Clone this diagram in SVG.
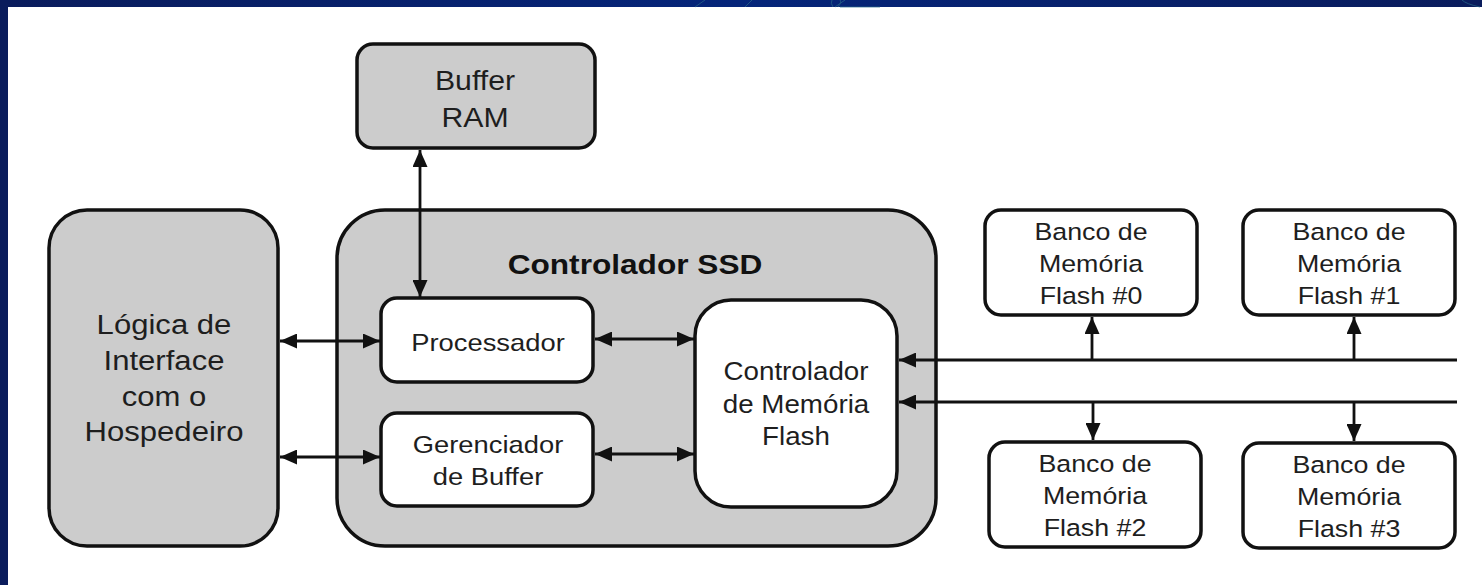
<svg xmlns="http://www.w3.org/2000/svg" width="1482" height="585" viewBox="0 0 1482 585">
  <defs>
    <linearGradient id="bar" x1="0" y1="0" x2="1" y2="0">
      <stop offset="0" stop-color="#0a1c5c"/>
      <stop offset="0.5" stop-color="#05257a"/>
      <stop offset="1" stop-color="#0a1c5c"/>
    </linearGradient>
    <marker id="head" viewBox="0 0 17 15" refX="17" refY="7.5" markerWidth="17" markerHeight="15" markerUnits="userSpaceOnUse" orient="auto-start-reverse">
      <path d="M0,0 L17,7.5 L0,15 z" fill="#111"/>
    </marker>
    <style>
      .box { stroke: #111; stroke-width: 3.5; }
      .gray { fill: #cccccc; }
      .white { fill: #ffffff; }
      .lbl { font-family: "Liberation Sans", Arial, sans-serif; fill: #1e1e1e; text-anchor: middle; }
      .bold { font-weight: bold; fill: #111; }
      .wire { stroke: #111; stroke-width: 2.8; fill: none; }
    </style>
  </defs>

  <!-- slide frame -->
  <rect x="0" y="0" width="1482" height="585" fill="#0a1c5c"/>
  <rect x="0" y="0" width="1482" height="7" fill="url(#bar)"/>
  <rect x="8" y="7" width="1474" height="578" fill="#ffffff"/>
  <g stroke="#2a6a8a" stroke-width="1" fill="none" opacity="0.7">
    <path d="M695,7 L705,0"/>
    <path d="M745,7 L752,0"/>
    <path d="M835,7 L845,0"/>
    <path d="M833,7 Q830,3 832,0"/>
    <path d="M840,7 L880,7"/>
    <path d="M838,7 Q842,2 840,0"/>
    <path d="M1480,7 Q1466,4 1462,0"/>
  </g>

  <!-- Buffer RAM -->
  <g id="buffer-ram">
    <rect class="box gray" x="357" y="44" width="238" height="104" rx="16"/>
    <text class="lbl" font-size="27" transform="translate(475,90) scale(1.12,1)"><tspan x="0" y="0">Buffer</tspan><tspan x="0" y="37">RAM</tspan></text>
  </g>

  <!-- Host interface logic -->
  <g id="host-interface">
    <rect class="box gray" x="49" y="210" width="229" height="336" rx="38"/>
    <text class="lbl" font-size="28" transform="translate(164,334) scale(1.11,1)"><tspan x="0" y="0">Lógica de</tspan><tspan x="0" y="36">Interface</tspan><tspan x="0" y="72">com o</tspan><tspan x="0" y="107">Hospedeiro</tspan></text>
  </g>

  <!-- SSD controller -->
  <g id="ssd-controller">
    <rect class="box gray" x="337" y="210" width="599" height="336" rx="48"/>
    <text class="lbl bold" font-size="27.5" transform="translate(635,274) scale(1.15,1)">Controlador SSD</text>
  </g>

  <g id="processador">
    <rect class="box white" x="381" y="298" width="212" height="84" rx="16"/>
    <text class="lbl" font-size="24" transform="translate(488,351) scale(1.14,1)">Processador</text>
  </g>

  <g id="gerenciador-buffer">
    <rect class="box white" x="381" y="413" width="212" height="93" rx="16"/>
    <text class="lbl" font-size="24" transform="translate(488,453) scale(1.14,1)"><tspan x="0" y="0">Gerenciador</tspan><tspan x="0" y="32">de Buffer</tspan></text>
  </g>

  <g id="controlador-flash">
    <rect class="box white" x="695" y="300" width="202" height="207" rx="36"/>
    <text class="lbl" font-size="25" transform="translate(796,380) scale(1.11,1)"><tspan x="0" y="0">Controlador</tspan><tspan x="0" y="33">de Memória</tspan><tspan x="0" y="65">Flash</tspan></text>
  </g>

  <!-- Flash banks -->
  <g id="banco-0">
    <rect class="box white" x="985" y="210" width="212" height="105" rx="16"/>
    <text class="lbl" font-size="23.5" transform="translate(1091,240) scale(1.14,1)"><tspan x="0" y="0">Banco de</tspan><tspan x="0" y="32">Memória</tspan><tspan x="0" y="64">Flash #0</tspan></text>
  </g>
  <g id="banco-1">
    <rect class="box white" x="1243" y="210" width="212" height="105" rx="16"/>
    <text class="lbl" font-size="23.5" transform="translate(1349,240) scale(1.14,1)"><tspan x="0" y="0">Banco de</tspan><tspan x="0" y="32">Memória</tspan><tspan x="0" y="64">Flash #1</tspan></text>
  </g>
  <g id="banco-2">
    <rect class="box white" x="989" y="442" width="212" height="105" rx="16"/>
    <text class="lbl" font-size="23.5" transform="translate(1095,472) scale(1.14,1)"><tspan x="0" y="0">Banco de</tspan><tspan x="0" y="32">Memória</tspan><tspan x="0" y="64">Flash #2</tspan></text>
  </g>
  <g id="banco-3">
    <rect class="box white" x="1243" y="443" width="212" height="105" rx="16"/>
    <text class="lbl" font-size="23.5" transform="translate(1349,473) scale(1.14,1)"><tspan x="0" y="0">Banco de</tspan><tspan x="0" y="32">Memória</tspan><tspan x="0" y="64">Flash #3</tspan></text>
  </g>

  <!-- connectors -->
  <g id="connectors" class="wire">
    <line x1="420" y1="150" x2="420" y2="297" marker-start="url(#head)" marker-end="url(#head)"/>
    <line x1="280" y1="341" x2="380" y2="341" marker-start="url(#head)" marker-end="url(#head)"/>
    <line x1="280" y1="457" x2="380" y2="457" marker-start="url(#head)" marker-end="url(#head)"/>
    <line x1="595" y1="339" x2="694" y2="339" marker-start="url(#head)" marker-end="url(#head)"/>
    <line x1="595" y1="454" x2="694" y2="454" marker-start="url(#head)" marker-end="url(#head)"/>
    <line x1="1457" y1="360" x2="899" y2="360" marker-end="url(#head)"/>
    <line x1="1457" y1="402" x2="899" y2="402" marker-end="url(#head)"/>
    <line x1="1092" y1="360" x2="1092" y2="317" marker-end="url(#head)"/>
    <line x1="1354" y1="360" x2="1354" y2="317" marker-end="url(#head)"/>
    <line x1="1093" y1="402" x2="1093" y2="440" marker-end="url(#head)"/>
    <line x1="1354" y1="402" x2="1354" y2="441" marker-end="url(#head)"/>
  </g>
</svg>
